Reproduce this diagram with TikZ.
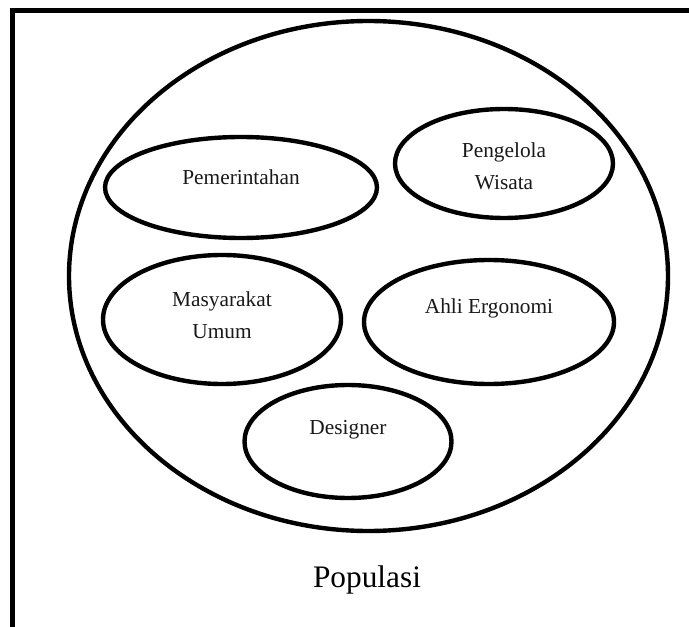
\documentclass[tikz,border=0pt]{standalone}
\usepackage{fontspec}
\setmainfont{Liberation Serif}
\usetikzlibrary{shapes.geometric}
\tikzset{
  blob/.style={draw=black,line width=3.3pt,ellipse,inner sep=0pt,fill=none},
  lbl/.style={font=\fontsize{16pt}{24pt}\selectfont,align=center,inner sep=0pt,anchor=base,text=black!90},
  bigl/.style={font=\fontsize{23.5pt}{26pt}\selectfont,inner sep=0pt,anchor=base}
}
\begin{document}
\begin{tikzpicture}[x=0.75pt,y=-0.75pt]
\useasboundingbox (0,0) rectangle (689,627);
\fill[white] (0,0) rectangle (689,627);
\coordinate (fa) at (12.5,627);
\coordinate (fb) at (12.5,10.5);
\coordinate (fc) at (689,10.5);
\draw[line width=3.5pt] (fa) -- (fb) -- (fc);
\node[blob,minimum width=599*0.75pt,minimum height=510*0.75pt] (pop) at (368.5,276) {};
\node[blob,minimum width=272*0.75pt,minimum height=101*0.75pt] (a) at (241,187.5) {};
\node[blob,minimum width=218*0.75pt,minimum height=109*0.75pt] (b) at (504,163.5) {};
\node[blob,minimum width=238*0.75pt,minimum height=129*0.75pt] (c) at (222,319.5) {};
\node[blob,minimum width=250*0.75pt,minimum height=124*0.75pt] (d) at (489,322) {};
\node[blob,minimum width=207*0.75pt,minimum height=113*0.75pt] (e) at (348,441.5) {};
\node[lbl] (ta) at (241,185) {Pemerintahan};
\node[lbl] (tb) at (504,190) {Pengelola\\Wisata};
\node[lbl] (tc) at (222,339) {Masyarakat\\Umum};
\node[lbl] (td) at (489,314) {Ahli Ergonomi};
\node[lbl] (te) at (348,434) {Designer};
\node[bigl] (t) at (367,587) {Populasi};
\end{tikzpicture}
\end{document}
